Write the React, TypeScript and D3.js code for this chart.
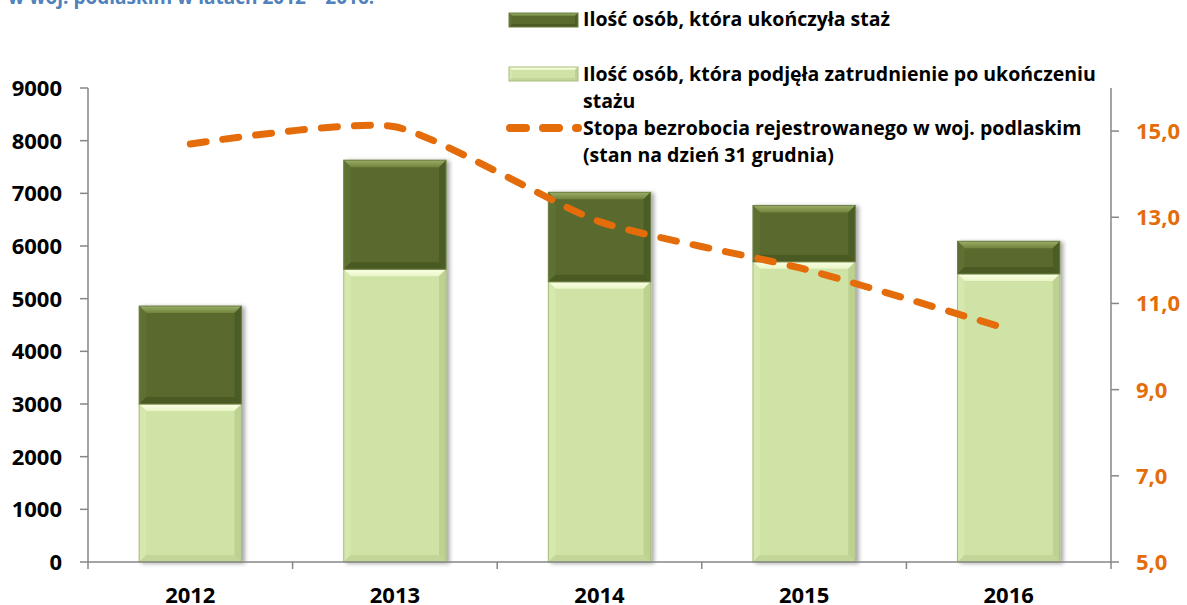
import React from "react";
import * as d3 from "d3";

const years = ["2012", "2013", "2014", "2015", "2016"];
const employedAfter = [3000, 5560, 5320, 5700, 5470];
const finishedExtra = [1860, 2070, 1700, 1070, 620];
const unemploymentRate = [14.7, 15.1, 12.9, 11.8, 10.4];
const leftTicks = [0, 1000, 2000, 3000, 4000, 5000, 6000, 7000, 8000, 9000];
const rightTicks = [5, 7, 9, 11, 13, 15];

const W = 1187;
const H = 605;
const FONT = "'Open Sans', Lato, sans-serif";

function Bevel({ x0, y0, x1, y1, b, body, top, left, right, bottom, stroke }) {
  const p = (pts) => pts.map((q) => q.join(",")).join(" ");
  return (
    <g>
      <rect x={x0} y={y0} width={x1 - x0} height={y1 - y0} fill={body} />
      <polygon points={p([[x0, y0], [x1, y0], [x1 - b, y0 + b], [x0 + b, y0 + b]])} fill={top} />
      <polygon points={p([[x0, y0], [x0 + b, y0 + b], [x0 + b, y1 - b], [x0, y1]])} fill={left} />
      <polygon points={p([[x1, y0], [x1 - b, y0 + b], [x1 - b, y1 - b], [x1, y1]])} fill={right} />
      <polygon points={p([[x0, y1], [x0 + b, y1 - b], [x1 - b, y1 - b], [x1, y1]])} fill={bottom} />
      <rect x={x0} y={y0} width={x1 - x0} height={y1 - y0} fill="none" stroke={stroke} strokeWidth={1} />
    </g>
  );
}

const DARK = { body: "#5A6B2D", top: "url(#gDarkTop)", left: "#5F7132", right: "#4C5D25", bottom: "#4A5A22", stroke: "#6E7F45" };
const LIGHT = { body: "#D0E3A6", top: "url(#gLightTop)", left: "#D6E8AE", right: "#BDD191", bottom: "#C2D698", stroke: "#A9BC7E" };

export default function App() {
  const x = d3.scaleBand().domain(years).range([88, 1111]).paddingInner(0.5).paddingOuter(0.25);
  const step = x.step();
  const yL = d3.scaleLinear().domain([0, 9000]).range([562, 88]);
  const yR = d3.scaleLinear().domain([5, 16]).range([562, 88]);
  const line = d3
    .line<number>()
    .x((_, i) => (x(years[i]) as number) + x.bandwidth() / 2)
    .y((d) => yR(d))
    .curve(d3.curveCardinal.tension(0.4));

  const axisColor = "#868686";
  const orange = "#E46C0A";

  return (
    <svg width={W} height={H} style={{ position: "absolute", left: 0, top: 0, background: "#fff" }}>
      <defs>
        <linearGradient id="gDarkTop" x1="0" y1="0" x2="0" y2="1">
          <stop offset="0" stopColor="#9AAE68" />
          <stop offset="1" stopColor="#71843C" />
        </linearGradient>
        <linearGradient id="gLightTop" x1="0" y1="0" x2="0" y2="1">
          <stop offset="0" stopColor="#FBFFE6" />
          <stop offset="1" stopColor="#EAF5C6" />
        </linearGradient>
        <filter id="shadow" x="-20%" y="-10%" width="140%" height="120%">
          <feGaussianBlur in="SourceAlpha" stdDeviation="2" />
          <feOffset dx="3" dy="1" result="ob" />
          <feComponentTransfer>
            <feFuncA type="linear" slope="0.35" />
          </feComponentTransfer>
          <feMerge>
            <feMergeNode />
            <feMergeNode in="SourceGraphic" />
          </feMerge>
        </filter>
      </defs>

      {/* cut-off title */}
      <text x={8} y={4} fontFamily={FONT} fontWeight={700} fontSize={19} fill="#4F81BD">
        w woj. podlaskim w latach 2012 – 2016.
      </text>

      {/* bars */}
      {years.map((yr, i) => {
        const x0 = x(yr) as number;
        const x1 = x0 + x.bandwidth();
        const base = yL(0);
        const yA = yL(employedAfter[i]);
        const yB = yL(employedAfter[i] + finishedExtra[i]);
        return (
          <g key={yr} filter="url(#shadow)">
            <Bevel x0={x0} y0={yA} x1={x1} y1={base} b={7} {...LIGHT} />
            <Bevel x0={x0} y0={yB} x1={x1} y1={yA} b={7} {...DARK} />
          </g>
        );
      })}

      {/* left axis */}
      <line x1={88} x2={88} y1={88} y2={562} stroke={axisColor} strokeWidth={1.5} />
      {leftTicks.map((t) => (
        <g key={t}>
          <line x1={80} x2={88} y1={yL(t)} y2={yL(t)} stroke={axisColor} strokeWidth={1.5} />
          <text x={62} y={yL(t)} dy="0.36em" textAnchor="end" fontFamily={FONT} fontWeight={700} fontSize={22} fill="#000">
            {t}
          </text>
        </g>
      ))}

      {/* bottom axis */}
      <line x1={88} x2={1111} y1={562} y2={562} stroke={axisColor} strokeWidth={1.5} />
      {d3.range(years.length + 1).map((i) => (
        <line key={i} x1={88 + i * step} x2={88 + i * step} y1={562} y2={569} stroke={axisColor} strokeWidth={1.5} />
      ))}
      {years.map((yr) => (
        <text key={yr} x={(x(yr) as number) + x.bandwidth() / 2} y={595} dy="0.36em" textAnchor="middle" fontFamily={FONT} fontWeight={700} fontSize={22} fill="#000">
          {yr}
        </text>
      ))}

      {/* right axis */}
      <line x1={1111} x2={1111} y1={88} y2={562} stroke={axisColor} strokeWidth={1.5} />
      {rightTicks.map((t) => (
        <g key={t}>
          <line x1={1111} x2={1119} y1={yR(t)} y2={yR(t)} stroke={axisColor} strokeWidth={1.5} />
          <text x={1136} y={yR(t)} dy="0.36em" textAnchor="start" fontFamily={FONT} fontWeight={700} fontSize={22} fill={orange}>
            {t.toFixed(1).replace(".", ",")}
          </text>
        </g>
      ))}

      {/* line */}
      <path d={line(unemploymentRate) as string} fill="none" stroke={orange} strokeWidth={7} strokeDasharray="16 17" strokeLinecap="round" />

      {/* legend */}
      <g fontFamily={FONT} fontWeight={700} fontSize={19.5} fill="#000">
        <Bevel x0={509} y0={13} x1={578} y1={27} b={3} {...DARK} />
        <text x={583} y={26}>Ilość osób, która ukończyła staż</text>
        <Bevel x0={509} y0={67} x1={578} y1={81} b={3} {...LIGHT} />
        <text x={583} y={81}>Ilość osób, która podjęła zatrudnienie po ukończeniu</text>
        <text x={583} y={108}>stażu</text>
        <path d="M510,128 L578,128" stroke={orange} strokeWidth={8} strokeDasharray="16 17" strokeLinecap="round" fill="none" />
        <text x={583} y={135}>Stopa bezrobocia rejestrowanego w woj. podlaskim</text>
        <text x={583} y={162}>(stan na dzień 31 grudnia)</text>
      </g>
    </svg>
  );
}
